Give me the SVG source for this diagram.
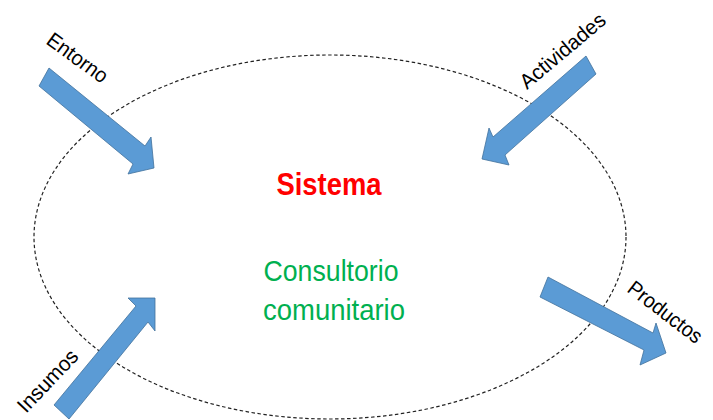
<svg xmlns="http://www.w3.org/2000/svg" width="713" height="420" viewBox="0 0 713 420">
<style>
.arrow{fill:#5B9BD5;stroke:#41719C;stroke-width:0.8;stroke-linejoin:miter}
.lbl{font-family:"Liberation Sans",Arial,sans-serif;font-size:21px;fill:#000}
.title{font-family:"Liberation Sans",Arial,sans-serif;font-weight:bold;font-size:31px;fill:#FF0000}
.sub{font-family:"Liberation Sans",Arial,sans-serif;font-size:29px;fill:#00B050}
</style>
<rect width="713" height="420" fill="#fff"/>
<g id="sistema">
<ellipse cx="330" cy="237" rx="296" ry="182" fill="none" stroke="#222" stroke-width="1.2" stroke-dasharray="3.5 2.5"/>
<text class="title" x="329" y="195" text-anchor="middle" textLength="105" lengthAdjust="spacingAndGlyphs">Sistema</text>
<text class="sub" x="331" y="281" text-anchor="middle" textLength="135" lengthAdjust="spacingAndGlyphs">Consultorio</text>
<text class="sub" x="334" y="320" text-anchor="middle" textLength="142" lengthAdjust="spacingAndGlyphs">comunitario</text>
</g>
<g id="connectors">
<g id="entorno">
<polygon class="arrow" points="49,68 145,146 151,137 154,168 128,174 133,164 39,86"/>
<text class="lbl" transform="translate(45,43) rotate(36)" textLength="70" lengthAdjust="spacingAndGlyphs">Entorno</text>
</g>
<g id="actividades">
<polygon class="arrow" points="586,56 596,74 505,155 509,165 482,159 489,128 493,137"/>
<text class="lbl" transform="translate(527,90) rotate(-40)" textLength="105" lengthAdjust="spacingAndGlyphs">Actividades</text>
</g>
<g id="insumos">
<polygon class="arrow" points="54,405 136,306 128,298 155,298 155,331 148,322 69,419"/>
<text class="lbl" transform="translate(26,414) rotate(-46.5)" textLength="78" lengthAdjust="spacingAndGlyphs">Insumos</text>
</g>
<g id="productos">
<polygon class="arrow" points="548,277 653,333 656,323 666,353 640,365 644,350 540,297"/>
<text class="lbl" transform="translate(626,291) rotate(37.5)" textLength="88" lengthAdjust="spacingAndGlyphs">Productos</text>
</g>
</g>
</svg>
